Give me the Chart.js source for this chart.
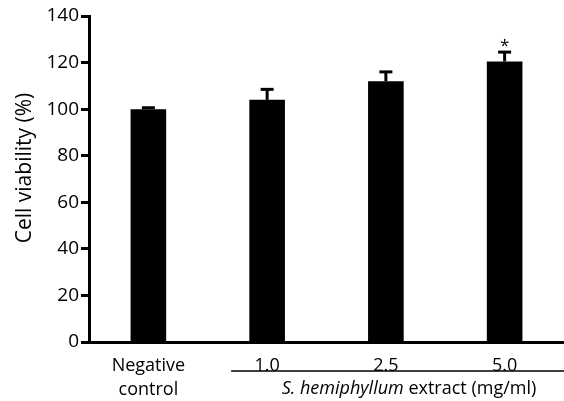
<!DOCTYPE html>
<html>
<head>
<meta charset="utf-8">
<script src="https://cdn.jsdelivr.net/npm/chart.js@4"></script>
<style>
  html, body { margin: 0; padding: 0; background: #fff; }
  #wrap { width: 564px; height: 401px; position: relative; }
</style>
</head>
<body>
<div id="wrap"><canvas id="chart"></canvas></div>
<script>
// Données
const categories = [['Negative', 'control'], '1.0', '2.5', '5.0'];
const viability = [100, 104, 112, 120.5];
const errors = [0.6, 4.5, 4, 4];
const stars = ['', '', '', '*'];
const yTicks = [0, 20, 40, 60, 80, 100, 120, 140];

const FONT = '"Open Sans", sans-serif';
const SIZE = 19;

// Barres d'erreur, astérisque, titre de l'axe y et légende du groupe traité
const extrasPlugin = {
    id: 'extras',
    afterDatasetsDraw(chart) {
        const ctx = chart.ctx;
        const x = chart.scales.x;
        const y = chart.scales.y;
        const meta = chart.getDatasetMeta(0);
        ctx.save();
        ctx.strokeStyle = '#000';
        ctx.fillStyle = '#000';
        meta.data.forEach((bar, i) => {
            const top = y.getPixelForValue(viability[i] + errors[i]);
            const base = y.getPixelForValue(viability[i]);
            ctx.lineWidth = 3;
            ctx.beginPath();
            ctx.moveTo(bar.x, base);
            ctx.lineTo(bar.x, top);
            ctx.stroke();
            ctx.beginPath();
            ctx.moveTo(bar.x - 6.5, top);
            ctx.lineTo(bar.x + 6.5, top);
            ctx.stroke();
            if (stars[i]) {
                ctx.font = '17px ' + FONT;
                ctx.textAlign = 'center';
                ctx.textBaseline = 'middle';
                ctx.fillText(stars[i], bar.x, top - 6);
            }
        });
        // titre de l'axe y
        ctx.save();
        ctx.translate(25, 168);
        ctx.rotate(-Math.PI / 2);
        ctx.font = '21px ' + FONT;
        ctx.textAlign = 'center';
        ctx.textBaseline = 'middle';
        ctx.fillText('Cell viability (%)', 0, 0);
        ctx.restore();
        // trait sous les concentrations
        const lineY = chart.chartArea.bottom + 29;
        const x1 = x.getPixelForValue(1) - 36;
        const x2 = chart.width;
        ctx.lineWidth = 1.5;
        ctx.beginPath();
        ctx.moveTo(x1, lineY);
        ctx.lineTo(x2, lineY);
        ctx.stroke();
        // texte "S. hemiphyllum extract (mg/ml)"
        const ty = chart.chartArea.bottom + 47;
        ctx.textBaseline = 'middle';
        ctx.textAlign = 'left';
        const it = 'S. hemiphyllum';
        const rest = ' extract (mg/ml)';
        ctx.font = 'italic ' + (SIZE - 1) + 'px ' + FONT;
        const w1 = ctx.measureText(it).width;
        ctx.font = (SIZE - 1) + 'px ' + FONT;
        const w2 = ctx.measureText(rest).width;
        const cx = 409;
        let sx = cx - (w1 + w2) / 2;
        ctx.font = 'italic ' + (SIZE - 1) + 'px ' + FONT;
        ctx.fillText(it, sx, ty);
        ctx.font = (SIZE - 1) + 'px ' + FONT;
        ctx.fillText(rest, sx + w1, ty);
        ctx.restore();
    }
};

new Chart(document.getElementById('chart').getContext('2d'), {
    type: 'bar',
    data: {
        labels: categories,
        datasets: [{
            data: viability,
            backgroundColor: '#000',
            borderColor: '#000',
            borderWidth: 0,
            barPercentage: 0.3,
            categoryPercentage: 1.0
        }]
    },
    options: {
        responsive: true,
        maintainAspectRatio: false,
        animation: false,
        layout: { padding: { top: 16, right: 0, left: 0, bottom: 0 } },
        plugins: { legend: { display: false }, tooltip: { enabled: false } },
        scales: {
            x: {
                grid: { display: false },
                border: { display: true, color: '#000', width: 3 },
                ticks: {
                    color: '#000',
                    font: { family: FONT, size: SIZE - 1, lineHeight: 1.33 },
                    padding: 4,
                    maxRotation: 0
                },
                afterFit(scale) { scale.height = 59; }
            },
            y: {
                min: 0,
                max: 140,
                afterBuildTicks(scale) { scale.ticks = yTicks.map(v => ({ value: v })); },
                grid: {
                    drawOnChartArea: false,
                    drawTicks: true,
                    tickLength: 8,
                    tickWidth: 3,
                    color: '#000'
                },
                border: { display: true, color: '#000', width: 3 },
                ticks: {
                    color: '#000',
                    font: { family: FONT, size: SIZE },
                    padding: 2
                },
                afterFit(scale) { scale.width = 89; }
            }
        }
    },
    plugins: [extrasPlugin]
});
</script>
</body>
</html>
